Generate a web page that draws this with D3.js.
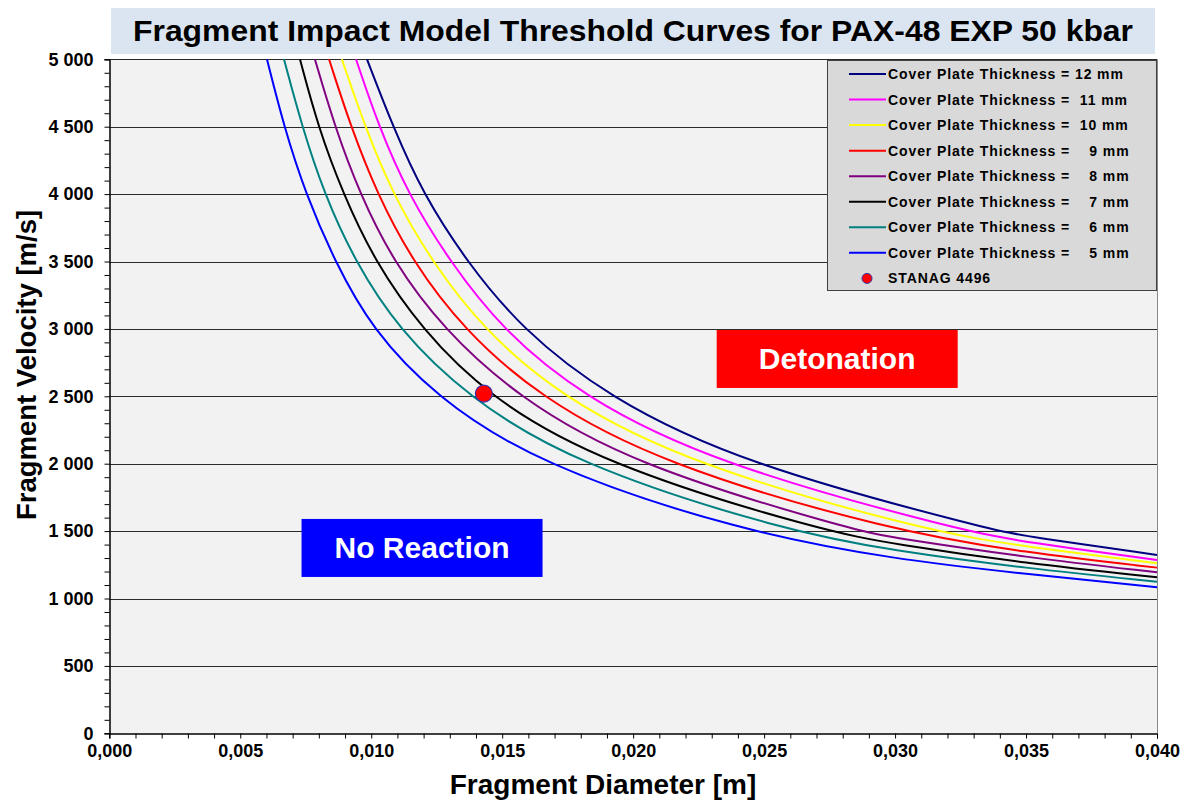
<!DOCTYPE html>
<html>
<head>
<meta charset="utf-8">
<script src="https://cdn.jsdelivr.net/npm/d3@7"></script>
<style>
  body { margin: 0; background: #fff; }
  svg text { font-family: Arial, "Liberation Sans", sans-serif; font-weight: bold; }
</style>
</head>
<body>
<div id="chart"></div>
<script>
// thickness of cover plate [mm] for each curve, legend order
const thickness = [12, 11, 10, 9, 8, 7, 6, 5];
const curveColors = ['#000080', '#ff00ff', '#ffff00', '#ff0000', '#800080', '#000000', '#008080', '#0000ff'];
const legendLabels = [
    'Cover Plate Thickness = 12 mm',
    'Cover Plate Thickness =  11 mm',
    'Cover Plate Thickness =  10 mm',
    'Cover Plate Thickness =    9 mm',
    'Cover Plate Thickness =    8 mm',
    'Cover Plate Thickness =    7 mm',
    'Cover Plate Thickness =    6 mm',
    'Cover Plate Thickness =    5 mm'
];

// velocity levels [m/s] where the diameters below were read
const velocityLevels = [5000, 4500, 4000, 3500, 3000, 2500, 2000, 1500];

// diameter [m] of each curve at the velocity levels above
const diam12 = [0.00984, 0.01083, 0.01198, 0.01364, 0.01574, 0.01898, 0.02414, 0.03387];
const diam11 = [0.00942, 0.01029, 0.01141, 0.01300, 0.01498, 0.01803, 0.02312, 0.03260];
const diam10 = [0.00888, 0.00976, 0.01082, 0.01231, 0.01427, 0.01720, 0.02210, 0.03120];
const diam9  = [0.00839, 0.00922, 0.01023, 0.01158, 0.01351, 0.01637, 0.02102, 0.02992];
const diam8  = [0.00785, 0.00861, 0.00957, 0.01084, 0.01275, 0.01555, 0.01987, 0.02853];
const diam7  = [0.00728, 0.00797, 0.00893, 0.01014, 0.01192, 0.01445, 0.01879, 0.02725];
const diam6  = [0.00667, 0.00736, 0.00821, 0.00938, 0.01103, 0.01364, 0.01771, 0.02585];
const diam5  = [0.00602, 0.00667, 0.00750, 0.00861, 0.01002, 0.01243, 0.01631, 0.02407];

// tail of each curve: velocity [m/s] at diameters 0.030, 0.035, 0.040 (null = not read)
const tailDiameters = [0.030, 0.035, 0.040];
const tail12 = [null, 1463, 1323];
const tail11 = [null, 1418, 1286];
const tail10 = [null, 1384, 1261];
const tail9  = [null, 1340, 1229];
const tail8  = [1450, 1305, 1194];
const tail7  = [1403, 1261, 1157];
const tail6  = [1353, 1224, 1125];
const tail5  = [1290, 1182, 1083];

// STANAG 4496 fragment
const stanagPoint = [0.0143, 2520];

const xTicks = d3.range(0, 0.0401, 0.005);
const yTicks = d3.range(0, 5001, 500);

const diamSeries = [diam12, diam11, diam10, diam9, diam8, diam7, diam6, diam5];
const tailSeries = [tail12, tail11, tail10, tail9, tail8, tail7, tail6, tail5];

class ThresholdChart {
    constructor(parentElement) {
        this.parentElement = parentElement;
        this.initVis();
    }

    initVis() {
        let vis = this;

        vis.width = 1187;
        vis.height = 800;
        vis.plot = {left: 109.3, right: 1157, top: 59.3, bottom: 733.3};

        vis.svg = d3.select('#' + vis.parentElement).append('svg')
            .attr('width', vis.width)
            .attr('height', vis.height);

        vis.x = d3.scaleLinear().domain([0, 0.04]).range([vis.plot.left, vis.plot.right]);
        vis.y = d3.scaleLinear().domain([0, 5000]).range([vis.plot.bottom, vis.plot.top]);

        // Title
        vis.svg.append('rect')
            .attr('x', 111).attr('y', 8)
            .attr('width', 1044).attr('height', 46)
            .attr('fill', '#dbe5f1');
        vis.svg.append('text')
            .attr('x', 633).attr('y', 41)
            .attr('text-anchor', 'middle')
            .attr('font-size', 30)
            .attr('textLength', 1000)
            .attr('lengthAdjust', 'spacingAndGlyphs')
            .attr('fill', '#000')
            .text('Fragment Impact Model Threshold Curves for PAX-48 EXP 50 kbar');

        // Plot background
        vis.svg.append('rect')
            .attr('x', vis.plot.left).attr('y', vis.plot.top)
            .attr('width', vis.plot.right - vis.plot.left)
            .attr('height', vis.plot.bottom - vis.plot.top)
            .attr('fill', '#f2f2f2');

        // Gridlines
        vis.svg.append('g')
            .selectAll('line')
            .data(yTicks.filter(d => d > 0))
            .enter().append('line')
            .attr('x1', vis.plot.left).attr('x2', vis.plot.right)
            .attr('y1', d => Math.round(vis.y(d)) + 0.5)
            .attr('y2', d => Math.round(vis.y(d)) + 0.5)
            .attr('stroke', '#2a2a2a')
            .attr('stroke-width', 1);

        // right border
        vis.svg.append('line')
            .attr('x1', vis.plot.right + 0.5).attr('x2', vis.plot.right + 0.5)
            .attr('y1', vis.plot.top).attr('y2', vis.plot.bottom)
            .attr('stroke', '#888');

        // Axes
        let fmt = d3.formatLocale({decimal: ',', thousands: ' ', grouping: [3], currency: ['', '']});

        vis.yAxis = d3.axisLeft(vis.y)
            .tickValues(yTicks)
            .tickSize(5)
            .tickPadding(11)
            .tickFormat(fmt.format(',d'));
        vis.yMinor = d3.axisLeft(vis.y)
            .tickValues(d3.range(0, 5001, 100).filter(d => d % 500 !== 0))
            .tickSize(5)
            .tickFormat('');

        vis.xAxis = d3.axisBottom(vis.x)
            .tickValues(xTicks)
            .tickSize(5)
            .tickPadding(6)
            .tickFormat(fmt.format(',.3f'));
        vis.xMinor = d3.axisBottom(vis.x)
            .tickValues(d3.range(0, 41, 1).filter(d => d % 5 !== 0).map(d => d / 1000))
            .tickSize(5)
            .tickFormat('');

        [[vis.yAxis, 'left'], [vis.yMinor, 'left'], [vis.xAxis, 'bottom'], [vis.xMinor, 'bottom']].forEach(([ax, side]) => {
            let g = vis.svg.append('g')
                .attr('transform', side === 'left'
                    ? `translate(${Math.round(vis.plot.left) + 0.5},0)`
                    : `translate(0,${Math.round(vis.plot.bottom) + 0.5})`)
                .call(ax);
            g.select('.domain').attr('stroke', '#000');
            g.selectAll('.tick line').attr('stroke', '#000');
            g.selectAll('.tick text')
                .attr('font-size', 18)
                .attr('font-family', 'Arial, "Liberation Sans", sans-serif')
                .attr('font-weight', 'bold')
                .attr('fill', '#000');
        });

        // Axis titles
        vis.svg.append('text')
            .attr('x', 603).attr('y', 794)
            .attr('text-anchor', 'middle')
            .attr('font-size', 28)
            .text('Fragment Diameter [m]');
        vis.svg.append('text')
            .attr('transform', `translate(36, 365) rotate(-90)`)
            .attr('text-anchor', 'middle')
            .attr('font-size', 27.5)
            .text('Fragment Velocity [m/s]');

        vis.wrangleData();
    }

    wrangleData() {
        let vis = this;

        vis.curves = thickness.map((t, i) => {
            let pts = velocityLevels.map((v, j) => ({d: diamSeries[i][j], v: v}));
            tailDiameters.forEach((d, j) => {
                if (tailSeries[i][j] !== null) pts.push({d: d, v: tailSeries[i][j]});
            });
            pts.sort((a, b) => a.d - b.d);
            return {thickness: t, color: curveColors[i], label: legendLabels[i], points: pts};
        });

        vis.updateVis();
    }

    updateVis() {
        let vis = this;

        // Region labels, anchored in data space
        let boxes = [
            {text: 'Detonation', fill: '#ff0000', d: 0.02779, v: 2777, size: 30},
            {text: 'No Reaction', fill: '#0000ff', d: 0.01194, v: 1375, size: 30}
        ];
        boxes.forEach(b => {
            let cx = vis.x(b.d), cy = vis.y(b.v);
            vis.svg.append('rect')
                .attr('x', cx - 120.5).attr('y', cy - 29)
                .attr('width', 241).attr('height', 58)
                .attr('fill', b.fill);
            vis.svg.append('text')
                .attr('x', cx).attr('y', cy + 10.5)
                .attr('text-anchor', 'middle')
                .attr('font-size', b.size)
                .attr('fill', '#fff')
                .text(b.text);
        });

        vis.line = d3.line()
            .x(p => vis.x(p.d))
            .y(p => vis.y(p.v))
            .curve(d3.curveBasis);

        vis.svg.append('g')
            .selectAll('path')
            .data(vis.curves.slice().reverse())
            .enter().append('path')
            .attr('d', c => vis.line(c.points))
            .attr('fill', 'none')
            .attr('stroke', c => c.color)
            .attr('stroke-width', 2);

        // STANAG point
        vis.svg.append('circle')
            .attr('cx', vis.x(stanagPoint[0]))
            .attr('cy', vis.y(stanagPoint[1]))
            .attr('r', 8.5)
            .attr('fill', '#ff0000')
            .attr('stroke', '#3333aa')
            .attr('stroke-width', 1.2);

        // Legend
        let legend = vis.svg.append('g').attr('class', 'legend');
        legend.append('rect')
            .attr('x', 827.5).attr('y', 60.5)
            .attr('width', 329).attr('height', 230)
            .attr('fill', '#d9d9d9')
            .attr('stroke', '#404040')
            .attr('stroke-width', 1);

        let rows = legend.selectAll('.legend-row')
            .data(vis.curves)
            .enter().append('g')
            .attr('class', 'legend-row')
            .attr('transform', (c, i) => `translate(0, ${74 + i * 25.55})`);
        rows.append('line')
            .attr('x1', 849).attr('x2', 886)
            .attr('stroke', c => c.color)
            .attr('stroke-width', 2);
        rows.append('text')
            .attr('x', 888).attr('y', 5)
            .attr('font-size', 14)
            .style('white-space', 'pre')
            .style('letter-spacing', '0.9px')
            .attr('fill', '#000')
            .text(c => c.label);

        let stanagRow = legend.append('g')
            .attr('transform', `translate(0, ${74 + 8 * 25.55})`);
        stanagRow.append('circle')
            .attr('cx', 867).attr('cy', 0).attr('r', 5)
            .attr('fill', '#ff0000')
            .attr('stroke', '#3333aa')
            .attr('stroke-width', 1);
        stanagRow.append('text')
            .attr('x', 888).attr('y', 5)
            .attr('font-size', 14)
            .style('letter-spacing', '0.9px')
            .text('STANAG 4496');
    }
}

document.addEventListener('DOMContentLoaded', function() {
    new ThresholdChart('chart');
});
</script>
</body>
</html>
